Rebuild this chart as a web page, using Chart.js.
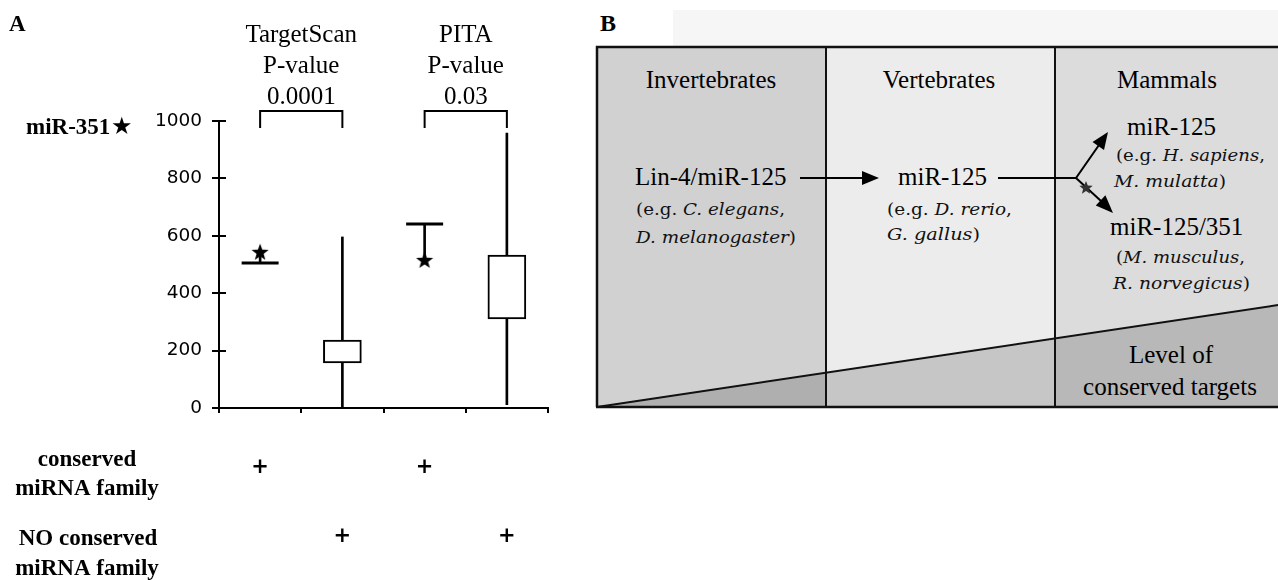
<!DOCTYPE html>
<html>
<head>
<meta charset="utf-8">
<title>miR-351* targets and miR-125 family conservation</title>
<script src="https://cdn.jsdelivr.net/npm/chart.js@4.4.1/dist/chart.umd.min.js"></script>
<style>
  html, body { margin: 0; padding: 0; background: #fff; }
  #page { position: relative; width: 1278px; height: 580px; overflow: hidden; }
  #chartA { position: absolute; left: 0; top: 0; }
  #panelB { position: absolute; left: 580px; top: 0; }
  #panelB text { font-family: "Liberation Serif", "Times New Roman", serif; fill: #000; font-size: 25px; }
  #panelB text.sp { font-family: "DejaVu Serif", serif; font-size: 17.5px; fill: #111; }
</style>
</head>
<body>
<div id="page">
  <canvas id="chartA" width="580" height="580"></canvas>

  <svg id="panelB" width="698" height="580" viewBox="580 0 698 580" xmlns="http://www.w3.org/2000/svg">
    <rect x="673" y="10" width="605" height="37" fill="#f6f6f6"/>
    <text x="600" y="31" font-weight="bold" style="font-size:24px">B</text>

    <!-- three clades -->
    <rect x="597" y="47" width="229" height="360" fill="#d1d1d1"/>
    <rect x="826" y="47" width="229" height="360" fill="#ececec"/>
    <rect x="1055" y="47" width="223" height="360" fill="#dcdcdc"/>
    <!-- level of conserved targets -->
    <polygon points="597,407 1278,305 1278,407" fill="#000" fill-opacity="0.16"/>
    <line x1="597" y1="407" x2="1278" y2="305" stroke="#111" stroke-width="2"/>
    <line x1="826" y1="47" x2="826" y2="407" stroke="#111" stroke-width="2"/>
    <line x1="1055" y1="47" x2="1055" y2="407" stroke="#111" stroke-width="2"/>
    <path d="M597,407 V47 H1278" fill="none" stroke="#111" stroke-width="2.5"/>
    <line x1="596" y1="407" x2="1278" y2="407" stroke="#111" stroke-width="2.5"/>

    <text x="711" y="88" text-anchor="middle">Invertebrates</text>
    <text x="939" y="88" text-anchor="middle">Vertebrates</text>
    <text x="1167" y="88" text-anchor="middle">Mammals</text>

    <text x="635" y="185">Lin-4/miR-125</text>
    <text x="636" y="215" class="sp" textLength="149" lengthAdjust="spacingAndGlyphs">(e.g. <tspan font-style="italic">C. elegans</tspan>,</text>
    <text x="636" y="243" class="sp" textLength="160" lengthAdjust="spacingAndGlyphs"><tspan font-style="italic">D. melanogaster</tspan>)</text>

    <line x1="800" y1="178" x2="864" y2="178" stroke="#000" stroke-width="2"/>
    <polygon points="862,171 879,178 862,185" fill="#000"/>

    <text x="898" y="185">miR-125</text>
    <text x="887" y="215" class="sp" textLength="125" lengthAdjust="spacingAndGlyphs">(e.g. <tspan font-style="italic">D. rerio</tspan>,</text>
    <text x="887" y="240" class="sp" textLength="93" lengthAdjust="spacingAndGlyphs"><tspan font-style="italic">G. gallus</tspan>)</text>

    <polyline points="998,178 1076,178 1099,145" fill="none" stroke="#000" stroke-width="2"/>
    <polygon points="1108,132 1104,150 1092.5,142" fill="#000"/>
    <line x1="1076" y1="178" x2="1101" y2="201" stroke="#000" stroke-width="2"/>
    <polygon points="1113,213 1095.8,205.4 1105.4,195.2" fill="#000"/>
    <polygon id="branchStar" fill="#333"/>

    <text x="1127" y="135">miR-125</text>
    <text x="1116" y="161" class="sp" textLength="149" lengthAdjust="spacingAndGlyphs">(e.g. <tspan font-style="italic">H. sapiens</tspan>,</text>
    <text x="1114" y="187" class="sp" textLength="112" lengthAdjust="spacingAndGlyphs"><tspan font-style="italic">M. mulatta</tspan>)</text>

    <text x="1110" y="235">miR-125/351</text>
    <text x="1116" y="263" class="sp" textLength="129" lengthAdjust="spacingAndGlyphs">(<tspan font-style="italic">M. musculus</tspan>,</text>
    <text x="1113" y="289" class="sp" textLength="137" lengthAdjust="spacingAndGlyphs"><tspan font-style="italic">R. norvegicus</tspan>)</text>

    <text x="1171" y="363" text-anchor="middle">Level of</text>
    <text x="1170" y="395" text-anchor="middle">conserved targets</text>
  </svg>
</div>

<script>
// panel A data: miR-351* position among the targets (boxes) of each miRNA group
const categories = ['conserved (TargetScan)', 'NO conserved (TargetScan)', 'conserved (PITA)', 'NO conserved (PITA)'];
const boxQ1 = [null, 157, null, 310];
const boxQ3 = [null, 237, null, 533];
const whiskerMin = [null, 0, null, 12];
const whiskerMax = [null, 596, null, 958];
const familyValue = [505, null, 641, null];
const mir351Value = [544, null, 516, null];
const yTicks = [0, 200, 400, 600, 800, 1000];
const methods = ['TargetScan', 'PITA'];
const pValues = ['0.0001', '0.03'];
const conservedMarks = ['+', '', '+', ''];
const notConservedMarks = ['', '+', '', '+'];

function starPoints(cx, cy, outer, inner) {
    const pts = [];
    for (let k = 0; k < 10; k++) {
        const r = k % 2 ? inner : outer;
        const a = -Math.PI / 2 + k * Math.PI / 5;
        pts.push([cx + r * Math.cos(a), cy + r * Math.sin(a)]);
    }
    return pts;
}

// small filled star used as point style
const starImg = document.createElement('canvas');
starImg.width = 18;
starImg.height = 18;
(function () {
    const c = starImg.getContext('2d');
    c.fillStyle = '#000';
    c.beginPath();
    starPoints(9, 9.8, 9, 3.7).forEach((p, k) => k ? c.lineTo(p[0], p[1]) : c.moveTo(p[0], p[1]));
    c.closePath();
    c.fill();
})();

document.getElementById('branchStar').setAttribute('points',
    starPoints(1086, 188, 7, 3).map(p => p[0].toFixed(1) + ',' + p[1].toFixed(1)).join(' '));

const bracketTop = 1035;
const bracketFoot = 976;

function bracket(g) {
    const a = categories[2 * g], b = categories[2 * g + 1];
    return {
        type: 'line',
        data: [{x: a, y: bracketFoot}, {x: a, y: bracketTop}, {x: b, y: bracketTop}, {x: b, y: bracketFoot}],
        borderColor: '#000',
        borderWidth: 2,
        pointRadius: 0,
        tension: 0,
        clip: false,
        order: 0
    };
}

const annotations = {
    id: 'annotations',
    afterDraw(chart) {
        const {ctx, scales: {x, y}} = chart;
        ctx.save();
        ctx.strokeStyle = '#000';
        ctx.lineWidth = 2;
        // ticks cross the y axis
        yTicks.forEach(v => {
            const py = Math.round(y.getPixelForValue(v));
            ctx.beginPath();
            ctx.moveTo(x.left, py);
            ctx.lineTo(x.left + 7, py);
            ctx.stroke();
        });

        ctx.fillStyle = '#000';
        ctx.textAlign = 'left';
        ctx.font = 'bold 23px "Liberation Serif"';
        ctx.fillText('A', 9, 31);
        ctx.font = 'bold 23px "Liberation Serif"';
        ctx.fillText('miR-351', 26, 134);
        ctx.font = '24px "DejaVu Sans"';
        ctx.fillText('\u2605', 111, 134);

        ctx.textAlign = 'center';
        ctx.font = '25px "Liberation Serif"';
        methods.forEach((m, g) => {
            const xm = (x.getPixelForValue(2 * g) + x.getPixelForValue(2 * g + 1)) / 2;
            ctx.fillText(m, xm, 42);
            ctx.fillText('P-value', xm, 73);
            ctx.fillText(pValues[g], xm, 104);
        });

        ctx.font = 'bold 23px "Liberation Serif"';
        ctx.fillText('conserved', 87, 466);
        ctx.fillText('miRNA family', 87, 495);
        ctx.fillText('NO conserved', 88, 545);
        ctx.fillText('miRNA family', 87, 575);

        ctx.font = 'bold 21px "DejaVu Sans"';
        ctx.textBaseline = 'middle';
        categories.forEach((c, i) => {
            const px = x.getPixelForValue(i);
            if (conservedMarks[i]) ctx.fillText(conservedMarks[i], px, 468);
            if (notConservedMarks[i]) ctx.fillText(notConservedMarks[i], px, 537);
        });
        ctx.restore();
    }
};

const ctx = document.getElementById('chartA').getContext('2d');
const chartA = new Chart(ctx, {
    type: 'bar',
    data: {
        labels: categories,
        datasets: [{
            label: 'interquartile range',
            data: categories.map((c, i) => boxQ1[i] == null ? null : [boxQ1[i], boxQ3[i]]),
            backgroundColor: '#fff',
            borderColor: '#000',
            borderWidth: 2,
            borderSkipped: false,
            barThickness: 38,
            grouped: false,
            order: 1
        }, {
            label: 'range',
            data: categories.map((c, i) => whiskerMin[i] == null ? null : [whiskerMin[i], whiskerMax[i]]),
            backgroundColor: '#000',
            borderWidth: 0,
            barThickness: 2,
            grouped: false,
            order: 2
        }, {
            label: 'link',
            data: categories.map((c, i) => familyValue[i] == null ? null :
                [Math.min(familyValue[i], mir351Value[i]), Math.max(familyValue[i], mir351Value[i])]),
            backgroundColor: '#000',
            borderWidth: 0,
            barThickness: 2,
            grouped: false,
            order: 2
        }, {
            type: 'line',
            label: 'conserved family',
            data: familyValue,
            showLine: false,
            pointStyle: 'line',
            pointRadius: 18.5,
            pointBorderWidth: 3,
            pointBorderColor: '#000',
            order: 0
        }, {
            type: 'line',
            label: 'miR-351*',
            data: mir351Value,
            showLine: false,
            pointStyle: starImg,
            order: 0
        }, bracket(0), bracket(1)]
    },
    options: {
        responsive: false,
        animation: false,
        events: [],
        layout: { padding: { left: 139, right: 32, top: 121, bottom: 164 } },
        plugins: {
            legend: { display: false },
            tooltip: { enabled: false }
        },
        scales: {
            x: {
                type: 'category',
                offset: true,
                ticks: { display: false },
                grid: { offset: true, drawOnChartArea: false, tickLength: 5, color: '#000', lineWidth: 2 },
                border: { color: '#000', width: 2 },
                afterFit: s => { s.height = 8; }
            },
            y: {
                min: 0,
                max: 1000,
                afterBuildTicks: s => { s.ticks = yTicks.map(v => ({value: v})); },
                ticks: {
                    color: '#000',
                    font: { family: 'DejaVu Sans', size: 18.5 },
                    padding: 10,
                    callback: v => String(v)
                },
                grid: { drawOnChartArea: false, tickLength: 7, color: '#000', lineWidth: 2 },
                border: { color: '#000', width: 2 },
                afterFit: s => { s.width = 80; }
            }
        }
    },
    plugins: [annotations]
});
</script>
</body>
</html>
